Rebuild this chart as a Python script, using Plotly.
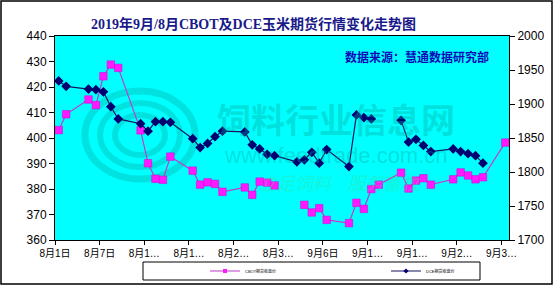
import plotly.graph_objects as go

dates = ["2019-08-01","2019-08-02","2019-08-05","2019-08-06","2019-08-07","2019-08-08","2019-08-09",
         "2019-08-12","2019-08-13","2019-08-14","2019-08-15","2019-08-16",
         "2019-08-19","2019-08-20","2019-08-21","2019-08-22","2019-08-23",
         "2019-08-26","2019-08-27","2019-08-28","2019-08-29","2019-08-30",
         "2019-09-02","2019-09-03","2019-09-04","2019-09-05","2019-09-06",
         "2019-09-09","2019-09-10","2019-09-11","2019-09-12","2019-09-13",
         "2019-09-16","2019-09-17","2019-09-18","2019-09-19","2019-09-20",
         "2019-09-23","2019-09-24","2019-09-25","2019-09-26","2019-09-27","2019-09-30"]

cbot = [403.1, 409.3, 415.1, 412.9, 424.2, 428.8, 427.5,
        403.0, 390.1, 384.0, 383.6, 392.7,
        387.2, 381.7, 382.6, 382.0, 378.9,
        380.6, 377.7, 382.9, 382.5, 381.4,
        None, 373.8, 370.8, 372.5, 367.9,
        366.6, 374.6, 372.2, 380.0, 381.7,
        386.4, 380.2, 383.3, 384.2, 381.7,
        383.8, 386.5, 385.3, 383.8, 384.6, 398.2]

dce = [1934, 1926, 1922, 1921, 1918, 1896, 1878,
       1871, 1860, 1874, 1874, 1873,
       1849, 1836, 1842, 1852, 1860,
       1859, 1840, 1834, 1826, 1824,
       1815, 1818, 1829, 1813, 1833,
       1808, 1884, 1880, 1878, None,
       1876, 1844, 1848, 1839, 1830,
       1834, 1830, 1827, 1824, 1813, None]

tick_vals = ["2019-07-31 12:00","2019-08-06 12:00","2019-08-12 12:00","2019-08-18 12:00",
             "2019-08-24 12:00","2019-08-30 12:00","2019-09-05 12:00","2019-09-11 12:00",
             "2019-09-17 12:00","2019-09-23 12:00","2019-09-29 12:00"]
tick_text = ["8月1日","8月7日","8月1…","8月1…","8月2…","8月3…","9月6日","9月1…","9月1…","9月2…","9月3…"]

title_text = "2019年9月/8月CBOT及DCE玉米期货行情变化走势图"
source_text = "数据来源：慧通数据研究部"
names = ["CBOT期货收盘价", "DCE期货收盘价"]

W, H = 556, 286
L, R, T, B = 55, 47, 36, 46
pw, ph = W - L - R, H - T - B

def px(x):
    return (x - L) / pw

def py(y):
    return (H - B - y) / ph

font_main = "Liberation Sans, Arial, Noto Sans CJK SC, sans-serif"
c_cbot_line, c_cbot_mk = "#C23BC8", "#FF19FF"
c_dce_line, c_dce_mk = "#15155E", "#000070"

fig = go.Figure()
fig.add_trace(go.Scatter(
    x=dates, y=cbot, name=names[0], mode="lines+markers", showlegend=False,
    line=dict(color=c_cbot_line, width=1.2),
    marker=dict(symbol="square", size=7.5, color=c_cbot_mk, line=dict(color="#D000D0", width=0.5)),
    connectgaps=False, yaxis="y"))
fig.add_trace(go.Scatter(
    x=dates, y=dce, name=names[1], mode="lines+markers", showlegend=False,
    line=dict(color=c_dce_line, width=1.2),
    marker=dict(symbol="diamond", size=7.5, color=c_dce_mk),
    connectgaps=False, yaxis="y2"))
# legend entries (small symbols as in the reference legend)
fig.add_trace(go.Scatter(
    x=[None], y=[None], name=names[0], mode="lines+markers",
    line=dict(color=c_cbot_line, width=1.2),
    marker=dict(symbol="square", size=4, color=c_cbot_mk), yaxis="y"))
fig.add_trace(go.Scatter(
    x=[None], y=[None], name=names[1], mode="lines+markers",
    line=dict(color=c_dce_line, width=1.2),
    marker=dict(symbol="diamond", size=4, color=c_dce_mk), yaxis="y2"))

shapes = []
# watermark logo rings
wm = "rgba(0,175,165,0.36)"
for (rx, ry, w) in [(55, 44, 7), (40, 32, 6), (25, 20, 6)]:
    cx, cy = 140, 135
    shapes.append(dict(type="circle", xref="paper", yref="paper",
                       x0=px(cx - rx), x1=px(cx + rx), y0=py(cy + ry), y1=py(cy - ry),
                       line=dict(color=wm, width=w), layer="below"))
# legend box
shapes.append(dict(type="rect", xref="paper", yref="paper",
                   x0=px(143), x1=px(480), y0=py(280), y1=py(262),
                   line=dict(color="black", width=1), fillcolor="white", layer="below"))
# outer chart border
shapes.append(dict(type="rect", xref="paper", yref="paper",
                   x0=px(1), x1=px(552), y0=py(284), y1=py(1),
                   line=dict(color="black", width=1.5), layer="above"))

annotations = [
    dict(text="<b>" + title_text + "</b>", xref="paper", yref="paper",
         x=px(253), y=py(24), showarrow=False, xanchor="center", yanchor="middle",
         font=dict(family="Liberation Serif, Noto Sans CJK SC, serif", size=14, color="#1A1A8A")),
    dict(text="<b>" + source_text + "</b>", xref="paper", yref="paper",
         x=px(417), y=py(57), showarrow=False, xanchor="center", yanchor="middle",
         font=dict(family="Noto Sans CJK SC, sans-serif", size=12, color="#0A0AB8")),
    dict(text="<b>饲料行业信息网</b>", xref="paper", yref="paper",
         x=px(336), y=py(118), showarrow=False, xanchor="center", yanchor="middle",
         font=dict(family="Noto Sans CJK SC, sans-serif", size=34, color="rgba(0,170,160,0.36)")),
    dict(text="www.feedtrade.com.cn", xref="paper", yref="paper",
         x=px(336), y=py(155), showarrow=False, xanchor="center", yanchor="middle",
         font=dict(family="Liberation Sans, sans-serif", size=22, color="rgba(0,170,160,0.36)")),
    dict(text="<i>立足饲料    服务畜牧</i>", xref="paper", yref="paper",
         x=px(340), y=py(182), showarrow=False, xanchor="center", yanchor="middle",
         font=dict(family="Noto Sans CJK SC, sans-serif", size=18, color="rgba(60,220,140,0.36)")),
]

fig.update_layout(
    width=W, height=H,
    margin=dict(l=L, r=R, t=T, b=B, pad=0, autoexpand=False),
    paper_bgcolor="white", plot_bgcolor="#00FFFF",
    shapes=shapes, annotations=annotations,
    showlegend=True,
    legend=dict(orientation="h", x=px(205), y=py(271), xanchor="left", yanchor="middle",
                font=dict(family=font_main, size=4, color="black"),
                bgcolor="rgba(0,0,0,0)", borderwidth=0,
                entrywidth=136, entrywidthmode="pixels", itemwidth=30),
    xaxis=dict(type="date", range=["2019-07-31 12:00", "2019-09-30 12:00"],
               tickmode="array", tickvals=tick_vals, ticktext=tick_text,
               showgrid=False, zeroline=False,
               showline=True, linecolor="black", linewidth=1, mirror=True,
               ticks="outside", ticklen=4, tickcolor="black",
               tickfont=dict(family=font_main, size=10, color="black")),
    yaxis=dict(range=[360, 440], tickmode="linear", tick0=360, dtick=10,
               showgrid=False, zeroline=False,
               showline=True, linecolor="black", linewidth=1,
               ticks="outside", ticklen=5, tickcolor="black",
               tickfont=dict(family=font_main, size=12, color="black")),
    yaxis2=dict(range=[1700, 2000], tickmode="linear", tick0=1700, dtick=50,
                overlaying="y", side="right",
                showgrid=False, zeroline=False,
                showline=True, linecolor="black", linewidth=1,
                ticks="outside", ticklen=5, tickcolor="black",
                tickfont=dict(family=font_main, size=12, color="black")),
)

fig.write_html("out.html")
